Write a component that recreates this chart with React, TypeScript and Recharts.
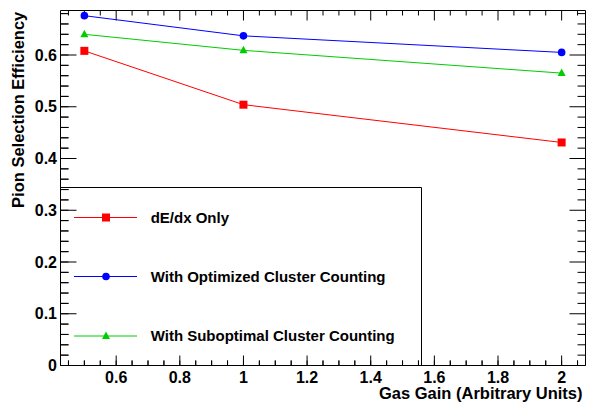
import { LineChart, Line, XAxis, YAxis, Legend, ReferenceLine } from 'recharts';

// gas gain (arbitrary units)
const gasGain = [0.5, 1, 2];
const dedxOnly = [0.608, 0.504, 0.431];
const optimizedCounting = [0.676, 0.637, 0.605];
const suboptimalCounting = [0.640, 0.609, 0.565];

const seriesNames = [
  'dE/dx Only',
  'With Optimized Cluster Counting',
  'With Suboptimal Cluster Counting',
];

const xDomain = [0.425, 2.075];
const yDomain = [0, 0.686];
const xMajor = [0.6, 0.8, 1, 1.2, 1.4, 1.6, 1.8, 2];
const xTicks = [
  0.45, 0.5, 0.55, 0.6, 0.65, 0.7, 0.75, 0.8, 0.85, 0.9, 0.95, 1, 1.05, 1.1, 1.15, 1.2,
  1.25, 1.3, 1.35, 1.4, 1.45, 1.5, 1.55, 1.6, 1.65, 1.7, 1.75, 1.8, 1.85, 1.9, 1.95, 2, 2.05,
];
const yMajor = [0, 0.1, 0.2, 0.3, 0.4, 0.5, 0.6];
const yTicks = [
  0, 0.02, 0.04, 0.06, 0.08, 0.1, 0.12, 0.14, 0.16, 0.18, 0.2, 0.22, 0.24, 0.26, 0.28, 0.3,
  0.32, 0.34, 0.36, 0.38, 0.4, 0.42, 0.44, 0.46, 0.48, 0.5, 0.52, 0.54, 0.56, 0.58, 0.6,
  0.62, 0.64, 0.66, 0.68,
];

const data = gasGain.map((x, i) => ({
  x,
  dedx: dedxOnly[i],
  optimized: optimizedCounting[i],
  suboptimal: suboptimalCounting[i],
}));

const FONT = 'Liberation Sans, Arial, sans-serif';
const RED = '#ff0000';
const BLUE = '#0000ff';
const GREEN = '#00cc00';

const WIDTH = 590;
const HEIGHT = 403;
const MARGIN = { top: 10.5, right: 4.5, bottom: 0, left: 0.5 };

const X_MINOR = 5;
const X_MAJOR = 10;
const Y_MINOR = 8;
const Y_MAJOR = 16;

const isMajor = (list: number[], v: number) => list.some((m) => Math.abs(m - v) < 1e-6);

function markerShape(kind: string, cx: number, cy: number, color: string, key?: string) {
  if (cx == null || cy == null) return <g key={key} />;
  if (kind === 'square') {
    return <rect key={key} x={cx - 4} y={cy - 4} width={8} height={8} fill={color} />;
  }
  if (kind === 'circle') {
    return <circle key={key} cx={cx} cy={cy} r={3.8} fill={color} />;
  }
  return (
    <polygon key={key} points={`${cx},${cy - 4.5} ${cx - 4},${cy + 3} ${cx + 4},${cy + 3}`} fill={color} />
  );
}

const seriesKeys = ['dedx', 'optimized', 'suboptimal'];
const seriesStyle: Record<string, { color: string; kind: string }> = {
  dedx: { color: RED, kind: 'square' },
  optimized: { color: BLUE, kind: 'circle' },
  suboptimal: { color: GREEN, kind: 'triangle' },
};

// tick labels only; the marks are drawn by the reference lines below
function BottomTick(props: any) {
  const x = Number(props.x);
  const y = Number(props.y);
  if (!isMajor(xMajor, props.payload.value)) return <g />;
  return (
    <text x={x} y={y + 17} textAnchor="middle" fontSize={16} fontWeight="bold" fontFamily={FONT} fill="#000">
      {String(props.payload.value)}
    </text>
  );
}

function LeftTick(props: any) {
  const x = Number(props.x);
  const y = Number(props.y);
  if (!isMajor(yMajor, props.payload.value)) return <g />;
  return (
    <text x={x - 3.5} y={y + 5.6} textAnchor="end" fontSize={16} fontWeight="bold" fontFamily={FONT} fill="#000">
      {String(props.payload.value)}
    </text>
  );
}

// a vertical reference line spans the frame; keep only its two ends as inward ticks
function xTickShape(len: number) {
  return (p: any) => {
    const x = Number(p.x1);
    const top = Math.min(Number(p.y1), Number(p.y2));
    const bottom = Math.max(Number(p.y1), Number(p.y2));
    return (
      <g>
        <line x1={x} x2={x} y1={bottom} y2={bottom - len} stroke="#000" />
        <line x1={x} x2={x} y1={top} y2={top + len} stroke="#000" />
      </g>
    );
  };
}

function yTickShape(len: number) {
  return (p: any) => {
    const y = Number(p.y1);
    const left = Math.min(Number(p.x1), Number(p.x2));
    const right = Math.max(Number(p.x1), Number(p.x2));
    return (
      <g>
        <line x1={left} x2={left + len} y1={y} y2={y} stroke="#000" />
        <line x1={right} x2={right - len} y1={y} y2={y} stroke="#000" />
      </g>
    );
  };
}

function Titles({ viewBox }: any) {
  const yx = viewBox.x - 37;
  const yy = MARGIN.top + 1.2;
  return (
    <g>
      <text
        x={viewBox.x + viewBox.width - 3}
        y={viewBox.y + 33.5}
        textAnchor="end"
        fontSize={16.5}
        fontWeight="bold"
        fontFamily={FONT}
        fill="#000"
      >
        Gas Gain (Arbitrary Units)
      </text>
      <text
        x={yx}
        y={yy}
        transform={`rotate(-90, ${yx}, ${yy})`}
        textAnchor="end"
        fontSize={16.5}
        fontWeight="bold"
        fontFamily={FONT}
        fill="#000"
      >
        Pion Selection Efficiency
      </text>
    </g>
  );
}

function renderLegend(props: any) {
  const payload = props.payload || [];
  const rows = [30.5, 89.5, 149];
  return (
    <svg width={362} height={179} style={{ display: 'block' }}>
      <line x1={0} x2={361.5} y1={0.5} y2={0.5} stroke="#000" />
      <line x1={361.5} x2={361.5} y1={0.5} y2={179} stroke="#000" />
      {seriesKeys.map((k, i) => {
        const found = payload.find((e: any) => e.dataKey === k);
        const s = seriesStyle[k];
        const cy = rows[i];
        return (
          <g key={k}>
            <line x1={14} x2={77} y1={cy} y2={cy} stroke={s.color} />
            {markerShape(s.kind, 46, cy, s.color)}
            <text x={90.7} y={cy + 5.4} fontSize={15} fontWeight="bold" fontFamily={FONT} fill="#000">
              {found ? found.value : seriesNames[i]}
            </text>
          </g>
        );
      })}
    </svg>
  );
}

export default function App() {
  return (
    <div style={{ position: 'absolute', left: 0, top: 0, width: WIDTH, height: HEIGHT, background: '#fff' }}>
      <div style={{ position: 'relative', width: WIDTH, height: HEIGHT, display: 'inline-block' }}>
        <LineChart width={WIDTH} height={HEIGHT} data={data} margin={MARGIN}>
          <XAxis
            xAxisId="b"
            type="number"
            dataKey="x"
            domain={xDomain}
            ticks={xTicks}
            interval={0}
            tickSize={-X_MINOR}
            tickMargin={X_MINOR}
            tickLine={{ stroke: '#000' }}
            tick={<BottomTick />}
            axisLine={{ stroke: '#000' }}
            height={37.5}
            label={<Titles />}
          />
          <YAxis
            yAxisId="l"
            type="number"
            domain={yDomain}
            ticks={yTicks}
            interval={0}
            tickSize={-Y_MINOR}
            tickMargin={Y_MINOR}
            tickLine={{ stroke: '#000' }}
            tick={<LeftTick />}
            axisLine={{ stroke: '#000' }}
            width={60}
          />
          {/* top and right sides of the frame */}
          <ReferenceLine xAxisId="b" yAxisId="l" y={yDomain[1]} stroke="#000" />
          <ReferenceLine xAxisId="b" yAxisId="l" x={xDomain[1]} stroke="#000" />
          {/* inward tick marks on all four sides */}
          {xTicks.map((v) => (
            <ReferenceLine
              key={`xt${v}`}
              xAxisId="b"
              yAxisId="l"
              x={v}
              stroke="#000"
              shape={xTickShape(isMajor(xMajor, v) ? X_MAJOR : X_MINOR)}
            />
          ))}
          {yTicks.map((v) => (
            <ReferenceLine
              key={`yt${v}`}
              xAxisId="b"
              yAxisId="l"
              y={v}
              stroke="#000"
              shape={yTickShape(isMajor(yMajor, v) ? Y_MAJOR : Y_MINOR)}
            />
          ))}
          <Legend
            layout="horizontal"
            verticalAlign="middle"
            align="center"
            content={renderLegend}
            wrapperStyle={{ left: 60, top: 187, width: 362, height: 179 }}
          />
          <Line
            xAxisId="b"
            yAxisId="l"
            type="linear"
            dataKey="dedx"
            name={seriesNames[0]}
            stroke={RED}
            strokeWidth={1}
            dot={(p: any) => markerShape('square', p.cx, p.cy, RED, `r${p.index}`)}
            activeDot={false}
            isAnimationActive={false}
          />
          <Line
            xAxisId="b"
            yAxisId="l"
            type="linear"
            dataKey="optimized"
            name={seriesNames[1]}
            stroke={BLUE}
            strokeWidth={1}
            dot={(p: any) => markerShape('circle', p.cx, p.cy, BLUE, `b${p.index}`)}
            activeDot={false}
            isAnimationActive={false}
          />
          <Line
            xAxisId="b"
            yAxisId="l"
            type="linear"
            dataKey="suboptimal"
            name={seriesNames[2]}
            stroke={GREEN}
            strokeWidth={1}
            dot={(p: any) => markerShape('triangle', p.cx, p.cy, GREEN, `g${p.index}`)}
            activeDot={false}
            isAnimationActive={false}
          />
        </LineChart>
      </div>
    </div>
  );
}
